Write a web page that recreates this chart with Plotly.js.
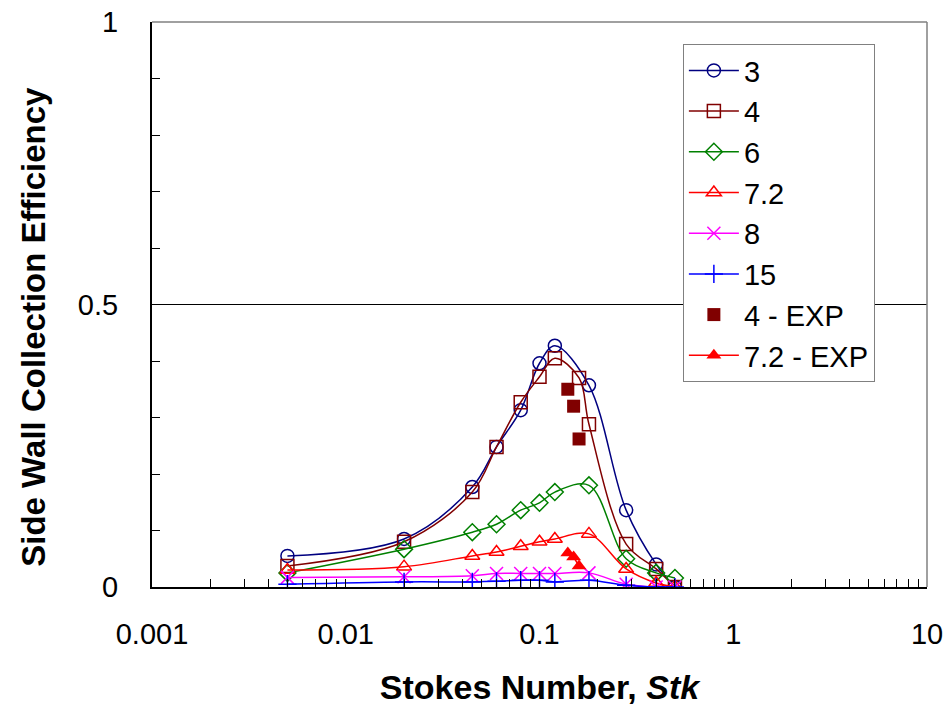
<!DOCTYPE html>
<html>
<head>
<meta charset="utf-8">
<script src="https://cdn.plot.ly/plotly-3.0.1.min.js"></script>
<style>html,body{margin:0;padding:0;background:#fff;}#chart{width:948px;height:709px;}</style>
</head>
<body>
<div id="chart"></div>
<script>
// Stokes numbers
const stk3 = [0.005, 0.02, 0.045, 0.06, 0.08, 0.1, 0.12, 0.18, 0.28, 0.4, 0.5];
const eff3 = [0.055, 0.085, 0.177, 0.248, 0.313, 0.396, 0.427, 0.357, 0.136, 0.04, 0.0];

const stk4 = [0.005, 0.02, 0.045, 0.06, 0.08, 0.1, 0.12, 0.16, 0.18, 0.28, 0.4, 0.5];
const eff4 = [0.037, 0.08, 0.168, 0.248, 0.327, 0.372, 0.405, 0.37, 0.288, 0.076, 0.032, 0.0];

const stk6 = [0.005, 0.02, 0.045, 0.06, 0.08, 0.1, 0.12, 0.18, 0.28, 0.4, 0.5];
const eff6 = [0.025, 0.067, 0.097, 0.111, 0.136, 0.149, 0.168, 0.18, 0.05, 0.025, 0.016];

const stk72 = [0.005, 0.02, 0.045, 0.06, 0.08, 0.1, 0.12, 0.18, 0.28, 0.4, 0.5];
const eff72 = [0.03, 0.036, 0.055, 0.062, 0.072, 0.08, 0.085, 0.094, 0.032, 0.007, 0.0];

const stk8 = [0.005, 0.02, 0.045, 0.06, 0.08, 0.1, 0.12, 0.18, 0.28, 0.4, 0.5];
const eff8 = [0.017, 0.018, 0.02, 0.024, 0.024, 0.024, 0.024, 0.025, 0.005, 0.0, 0.0];

const stk15 = [0.005, 0.02, 0.045, 0.06, 0.08, 0.1, 0.12, 0.18, 0.28, 0.4, 0.5];
const eff15 = [0.005, 0.009, 0.009, 0.01, 0.012, 0.012, 0.009, 0.012, 0.003, 0.0, 0.0];

const stkExp4 = [0.14, 0.15, 0.16];
const effExp4 = [0.35, 0.32, 0.262];

const stkExp72 = [0.14, 0.15, 0.16];
const effExp72 = [0.06, 0.053, 0.037];

const seriesNames = ['3', '4', '6', '7.2', '8', '15', '4 - EXP', '7.2 - EXP'];

const xTickVals = [0.001, 0.01, 0.1, 1, 10];
const xTickText = ['0.001', '0.01', '0.1', '1', '10'];
const xMinorVals = [];
[0.001, 0.01, 0.1, 1].forEach(d => { for (let k = 2; k <= 9; k++) xMinorVals.push(+(d * k).toPrecision(3)); });

const yTickVals = [0, 0.5, 1];
const yTickText = ['0', '0.5', '1'];

const xTitle = '<b>Stokes Number, <i>Stk</i></b>';
const yTitle = '<b>Side Wall Collection Efficiency</b>';

function curve(x, y, name, color, symbol, idx) {
  return {
    x: x, y: y, name: name, type: 'scatter', mode: 'lines+markers',
    legendgroup: 'g' + idx,
    line: {color: color, width: 1.5, shape: 'spline', smoothing: 1},
    marker: {symbol: symbol, size: 13, color: color, line: {color: color, width: 1.5}}
  };
}

const data = [
  curve(stk3, eff3, seriesNames[0], '#000080', 'circle-open', 0),
  curve(stk4, eff4, seriesNames[1], '#800000', 'square-open', 1),
  curve(stk6, eff6, seriesNames[2], '#008000', 'diamond-open', 2),
  curve(stk72, eff72, seriesNames[3], '#FF0000', 'triangle-up-open', 3),
  curve(stk8, eff8, seriesNames[4], '#FF00FF', 'x-thin-open', 4),
  curve(stk15, eff15, seriesNames[5], '#0000FF', 'cross-thin-open', 5),
  {
    x: stkExp4, y: effExp4, name: seriesNames[6], type: 'scatter', mode: 'markers',
    legendgroup: 'g6',
    marker: {symbol: 'square', size: 13, color: '#800000'}
  },
  {
    x: stkExp72, y: effExp72, name: seriesNames[7], type: 'scatter', mode: 'lines+markers',
    legendgroup: 'g7',
    line: {color: '#FF0000', width: 1.5},
    marker: {symbol: 'triangle-up', size: 13, color: '#FF0000'}
  }
];

const layout = {
  width: 948, height: 709,
  margin: {l: 152, r: 21, t: 22, b: 122},
  paper_bgcolor: '#fff', plot_bgcolor: '#fff',
  font: {family: 'Liberation Sans, Arial, sans-serif', color: '#000'},
  showlegend: true,
  legend: {
    x: 0.685, y: 0.961, xanchor: 'left', yanchor: 'top',
    bgcolor: '#fff', bordercolor: '#808080', borderwidth: 1,
    font: {size: 29, color: '#000'},
    traceorder: 'grouped', tracegroupgap: 0, itemwidth: 50
  },
  xaxis: {
    type: 'log', range: [-3, 1],
    tickmode: 'array', tickvals: xTickVals, ticktext: xTickText,
    ticks: 'inside', ticklen: 8, tickwidth: 1, tickcolor: '#000',
    minor: {tickmode: 'array', tickvals: xMinorVals, ticks: 'inside', ticklen: 8, tickcolor: '#000', showgrid: false},
    showgrid: false, zeroline: false,
    showline: true, linecolor: '#000', linewidth: 2, mirror: false,
    tickfont: {size: 29, color: '#000'}, ticklabelstandoff: 20,
    title: {text: xTitle, font: {size: 34, color: '#000'}, standoff: 26}
  },
  yaxis: {
    range: [0, 1],
    tickmode: 'array', tickvals: yTickVals, ticktext: yTickText,
    ticks: 'inside', ticklen: 8, tickcolor: '#000',
    minor: {dtick: 0.1, ticks: 'inside', ticklen: 8, tickcolor: '#000', showgrid: false},
    showgrid: true, gridcolor: '#000', gridwidth: 1, zeroline: false,
    showline: true, linecolor: '#000', linewidth: 2,
    tickfont: {size: 29, color: '#000'}, ticklabelstandoff: 26
  },
  annotations: [
    {text: yTitle, xref: 'paper', yref: 'paper', x: -0.154, y: 0.46,
     xanchor: 'center', yanchor: 'middle', textangle: -90, showarrow: false,
     font: {size: 33, color: '#000'}}
  ],
  shapes: [
    {type: 'line', xref: 'paper', yref: 'paper', x0: 0, x1: 1, y0: 1, y1: 1, line: {color: '#808080', width: 1.5}},
    {type: 'line', xref: 'paper', yref: 'paper', x0: 1, x1: 1, y0: 0, y1: 1, line: {color: '#808080', width: 1.5}}
  ]
};

Plotly.newPlot('chart', data, layout, {displayModeBar: false, staticPlot: true});
</script>
</body>
</html>
